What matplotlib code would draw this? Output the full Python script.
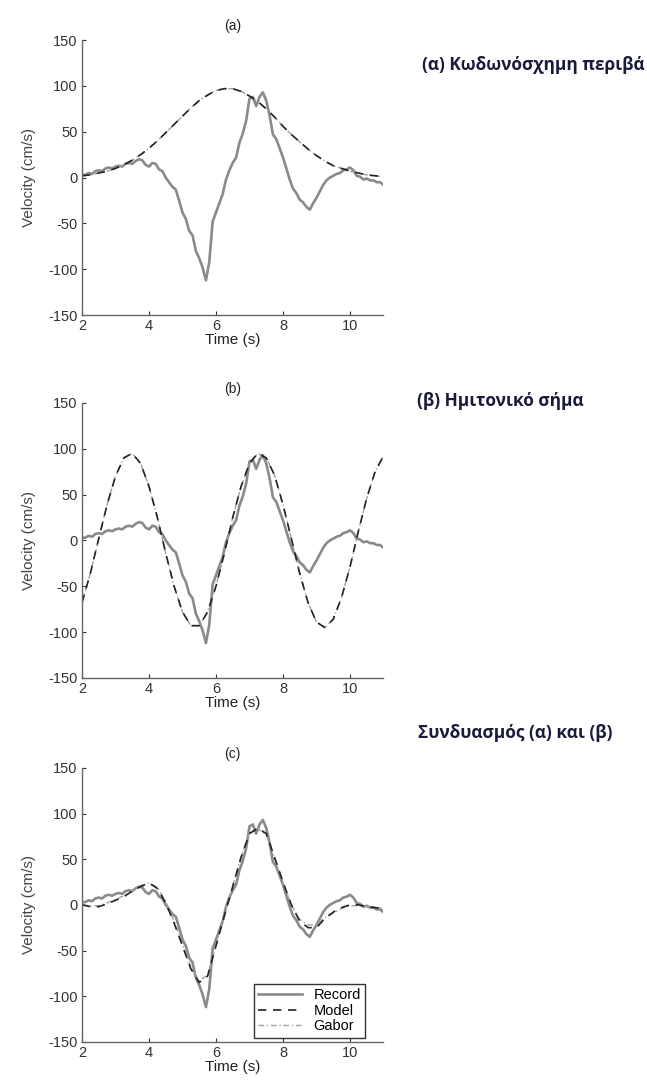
import numpy as np
import matplotlib
matplotlib.use("Agg")
import matplotlib.pyplot as plt

plt.rcParams["font.family"] = ["Liberation Sans", "DejaVu Sans"]
plt.rcParams["axes.unicode_minus"] = False

# record (same in all three panels), sampled every 0.1 s
t_rec = np.round(np.arange(2.0, 11.01, 0.1), 2)
record = [3, 3, 5, 4, 7, 8, 7, 10, 11, 10,
          12, 13, 12, 15, 16, 15, 18, 20, 19, 14,
          12, 16, 15, 9, 7, 0, -5, -10, -13, -25,
          -38, -45, -58, -63, -80, -88, -98, -112, -92, -48,
          -38, -28, -18, -2, 8, 16, 22, 38, 48, 62,
          86, 88, 78, 88, 93, 84, 68, 47, 42, 32,
          22, 10, -2, -12, -17, -24, -27, -32, -35, -28,
          -22, -15, -8, -3, 0, 2, 4, 5, 8, 9,
          11, 8, 2, 1, -2, -1, -3, -3, -5, -5,
          -8]

# model curves, sampled every 0.25 s
t_mod = np.round(np.arange(2.0, 11.01, 0.25), 2)
bell = [2, 3, 5, 7, 10, 14, 19, 25, 32, 40, 49, 58, 67, 76, 84, 90, 95, 97, 97,
        94, 89, 83, 75, 66, 56, 47, 39, 31, 24, 18, 13, 10, 7, 5, 3, 2, 1]
sine = [-68, -36, 2, 39, 70, 90, 95, 84, 59, 25, -14, -50, -78, -93, -93, -78, -50,
        -14, 25, 59, 84, 95, 90, 71, 39, 2, -36, -68, -89, -95, -86, -62, -29, 10,
        46, 75, 92]
model_c = [0, -2, -2, 1, 5, 9, 15, 20, 24, 18, 2, -20, -45, -70, -85, -78, -45,
           -12, 20, 52, 78, 84, 78, 52, 25, 0, -18, -25, -25, -15, -8, -3, 0, 0,
           -2, -3, -4]
gabor_c = [0, -1, -1, 2, 6, 10, 16, 21, 24, 19, 4, -18, -43, -68, -83, -77, -44,
           -11, 21, 53, 79, 83, 77, 51, 24, 0, -16, -22, -22, -14, -9, -4, -1, -1,
           -2, -3, -4]

titles = ["(a)", "(b)", "(c)"]
# the first note is cut at the page edge in the source
notes = ["(α) Κωδωνόσχημη περιβά", "(β) Ημιτονικό σήμα", "Συνδυασμός (α) και (β)"]
models = [(bell, bell), (sine, sine), (model_c, gabor_c)]

fig = plt.figure(figsize=(6.47, 10.83), dpi=100)

rects = [[0.1267, 0.709, 0.466, 0.254],
         [0.1267, 0.374, 0.466, 0.254],
         [0.1267, 0.038, 0.466, 0.253]]
note_pos = [(0.653, 0.940), (0.644, 0.630), (0.646, 0.323)]

for i in range(3):
    ax = fig.add_axes(rects[i])
    m, g = models[i]
    ax.plot(t_rec, record, color="#8a8a8a", lw=1.9, label="Record")
    ax.plot(t_mod, g, color="#a0a0a0", lw=1.0, ls=(0, (4, 2, 1, 2)), label="Gabor")
    ax.plot(t_mod, m, color="#222222", lw=1.2, ls=(0, (5, 4)), label="Model")
    ax.set_xlim(2, 11)
    ax.set_ylim(-150, 150)
    ax.set_xticks([2, 4, 6, 8, 10])
    ax.set_yticks([-150, -100, -50, 0, 50, 100, 150])
    ax.spines["top"].set_visible(False)
    ax.spines["right"].set_visible(False)
    for s in ("left", "bottom"):
        ax.spines[s].set_color("#666666")
        ax.spines[s].set_linewidth(1.0)
    ax.tick_params(direction="in", length=3, labelsize=10.5, colors="#333333",
                   pad=3)
    ax.set_xlabel("Time (s)", fontsize=11, labelpad=0, color="#222222")
    ax.set_ylabel("Velocity (cm/s)", fontsize=11, labelpad=9, color="#444444")
    ax.set_title(titles[i], fontsize=10, pad=7, color="#222222")
    if i == 2:
        h, l = ax.get_legend_handles_labels()
        leg = ax.legend([h[0], h[2], h[1]], [l[0], l[2], l[1]], loc="lower right",
                        bbox_to_anchor=(0.94, 0.015),
                        fontsize=10.5, fancybox=False, framealpha=1,
                        edgecolor="#333333", borderpad=0.3, labelspacing=0.1,
                        handlelength=3.0, borderaxespad=0)
        leg.get_frame().set_linewidth(1.0)
    fig.text(note_pos[i][0], note_pos[i][1], notes[i], fontsize=12.4,
             fontweight="bold", color="#1a1a3a",
             family=["Open Sans", "DejaVu Sans"], va="center")

fig.savefig("out.png", dpi=100)
